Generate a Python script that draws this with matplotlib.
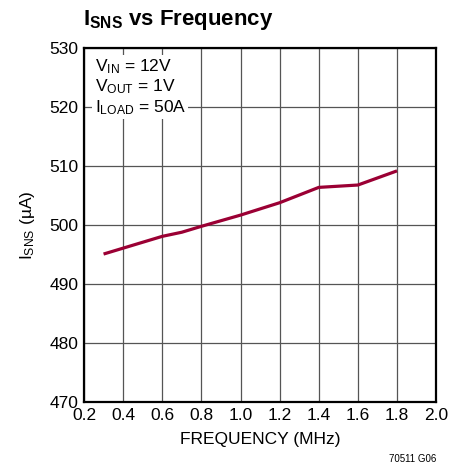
import matplotlib
matplotlib.use("Agg")
import matplotlib.pyplot as plt
from matplotlib import font_manager as fm

names = {f.name for f in fm.fontManager.ttflist}
fam = "Liberation Sans Narrow" if "Liberation Sans Narrow" in names else "Liberation Sans"
plt.rcParams['font.family'] = [fam, 'DejaVu Sans']
plt.rcParams['mathtext.fontset'] = 'custom'
plt.rcParams['mathtext.rm'] = fam
plt.rcParams['mathtext.it'] = fam
plt.rcParams['mathtext.bf'] = fam + ':bold'

freq = [0.3, 0.6, 0.7, 0.8, 1.0, 1.2, 1.4, 1.6, 1.8]
isns = [495.1, 498.1, 498.8, 499.8, 501.7, 503.8, 506.4, 506.8, 509.2]
xticks = [0.2, 0.4, 0.6, 0.8, 1.0, 1.2, 1.4, 1.6, 1.8, 2.0]
yticks = [470, 480, 490, 500, 510, 520, 530]

fig = plt.figure(figsize=(4.64, 4.72), dpi=100)
ax = fig.add_axes([0.181, 0.148, 0.759, 0.750])
ax.plot(freq, isns, color='#9B0034', lw=2.3, solid_capstyle='butt', zorder=3)
ax.set_xlim(0.2, 2.0)
ax.set_ylim(470, 530)
ax.set_xticks(xticks)
ax.set_yticks(yticks)
ax.set_xticklabels([f"{v:.1f}" for v in xticks])
ax.grid(True, color='#555555', lw=0.9)
ax.tick_params(length=0, labelsize=12.5, pad=4)
for s in ax.spines.values():
    s.set_linewidth(1.6)
ax.set_xlabel("FREQUENCY (MHz)", fontsize=12.5, labelpad=7)
ax.set_ylabel(r"I$_{\mathrm{SNS}}$ (µA)", fontsize=12.5, labelpad=9)

ax.text(0.03, 0.975, "V$_{\\mathrm{IN}}$ = 12V\nV$_{\\mathrm{OUT}}$ = 1V\nI$_{\\mathrm{LOAD}}$ = 50A",
        transform=ax.transAxes, va='top', ha='left', fontsize=12.5, linespacing=1.15,
        bbox=dict(facecolor='white', edgecolor='none', pad=1.5), zorder=4)

fig.text(0.179, 0.957, r"$\mathbf{I_{SNS}}$ vs Frequency", fontsize=16, fontweight='bold',
         ha='left', va='center')
fig.text(0.94, 0.018, "70511 G06", fontsize=7, ha='right', va='bottom')

fig.savefig("out.png", dpi=100)
